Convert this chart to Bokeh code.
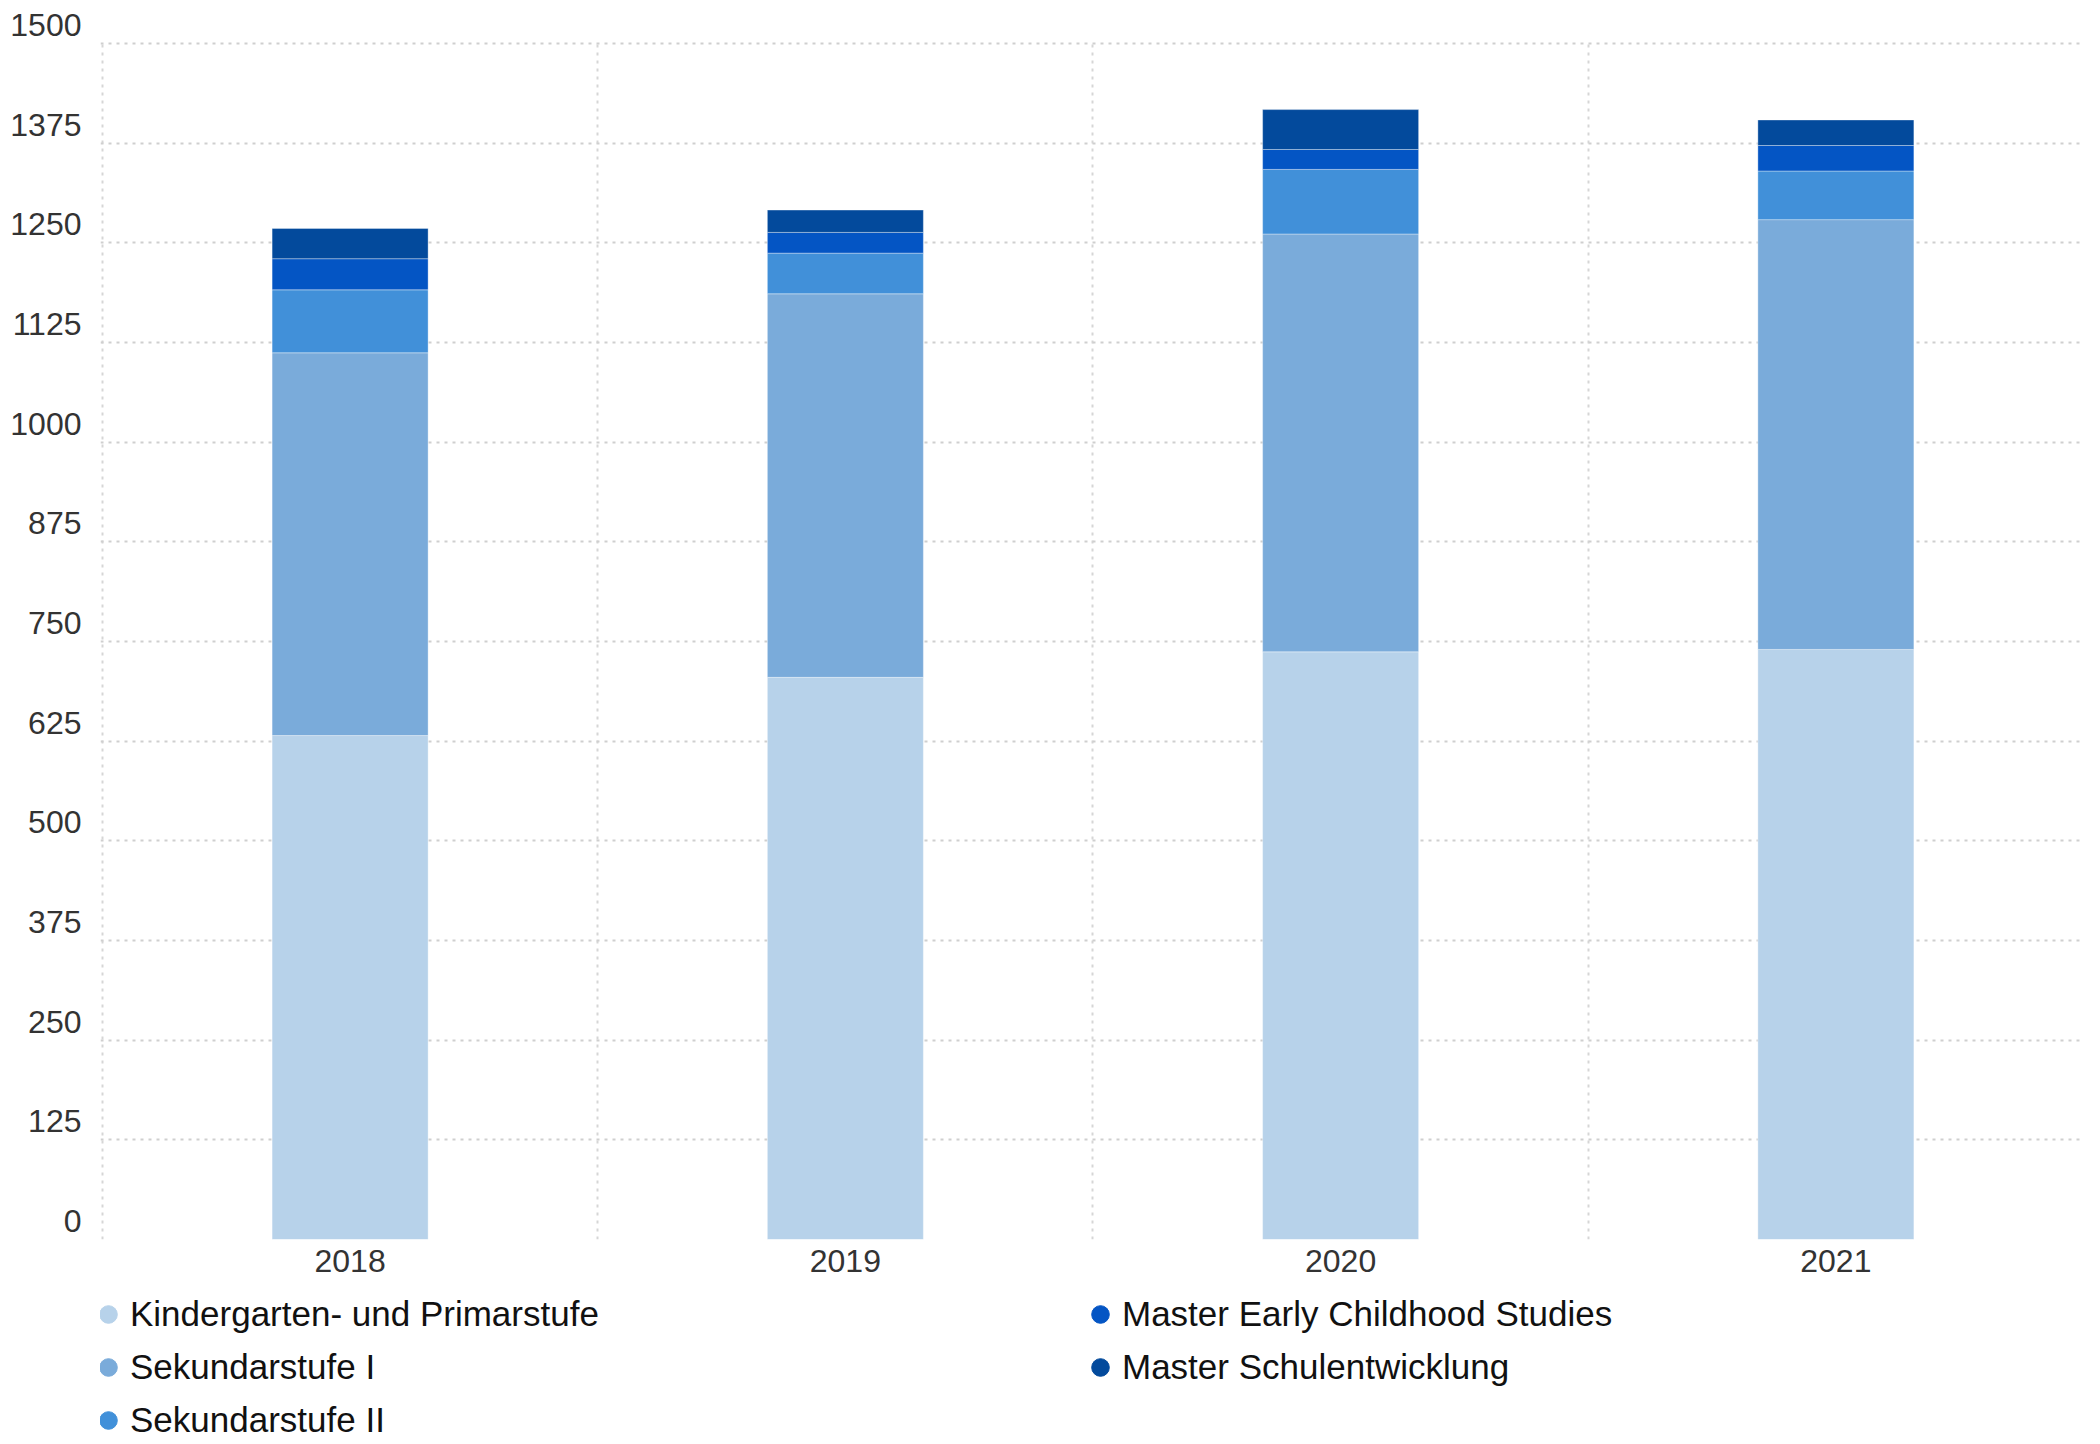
from bokeh.plotting import figure
from bokeh.layouts import column
from bokeh.models import Range1d, FixedTicker, Legend, LegendItem, ColumnDataSource
from bokeh.embed import file_html
from bokeh.resources import INLINE

# ---- data ----
years = ["2018", "2019", "2020", "2021"]
series_names = [
    "Kindergarten- und Primarstufe",
    "Sekundarstufe I",
    "Sekundarstufe II",
    "Master Early Childhood Studies",
    "Master Schulentwicklung",
]
kindergarten_primar = [632, 705, 737, 740]
sekundar_1 = [480, 481, 524, 539]
sekundar_2 = [79, 51, 81, 61]
master_early_childhood = [39, 26, 25, 32]
master_schulentwicklung = [38, 28, 50, 32]
colors = ["#b7d2ea", "#7aabda", "#4190d9", "#0455c4", "#034a9c"]
y_ticks = [0, 125, 250, 375, 500, 625, 750, 875, 1000, 1125, 1250, 1375, 1500]

keys = ["kg", "s1", "s2", "mec", "ms"]
xpos = [i + 0.5 for i in range(len(years))]
source = ColumnDataSource(dict(
    x=xpos,
    kg=kindergarten_primar,
    s1=sekundar_1,
    s2=sekundar_2,
    mec=master_early_childhood,
    ms=master_schulentwicklung,
))

LABEL_LIFT = 23  # tick labels sit just above their grid line
W = 2100
H_CHART = 1290
H_LEG = 154

p = figure(
    width=W, height=H_CHART,
    x_range=Range1d(-0.004, len(years)), y_range=Range1d(0, 1530),
    output_backend="svg", toolbar_location=None,
    min_border_left=100, min_border_right=17, min_border_top=19, min_border_bottom=51,
)
p.outline_line_color = None
p.background_fill_color = "white"
p.border_fill_color = "white"

p.vbar_stack(keys, x="x", width=0.315, color=colors, source=source,
             line_color="white", line_alpha=0.35, line_width=1)

# axes
for ax in (p.xaxis, p.yaxis):
    ax.axis_line_color = None
    ax.major_tick_line_color = None
    ax.minor_tick_line_color = None
    ax.major_tick_out = 0
    ax.major_tick_in = 0
    ax.major_label_text_font = "Liberation Sans"
    ax.major_label_text_font_size = "32px"
    ax.major_label_text_color = "#333333"

p.xaxis.ticker = FixedTicker(ticks=xpos)
p.xaxis.major_label_overrides = {xv: y for xv, y in zip(xpos, years)}
p.xaxis.major_label_standoff = 10

lifted = [t + LABEL_LIFT for t in y_ticks]
p.yaxis.ticker = FixedTicker(ticks=lifted)
p.yaxis.major_label_overrides = {lv: str(t) for lv, t in zip(lifted, y_ticks)}
p.yaxis.major_label_standoff = 19

p.ygrid.ticker = FixedTicker(ticks=y_ticks)
p.ygrid.grid_line_color = "#cfcfcf"
p.ygrid.grid_line_width = 2
p.ygrid.grid_line_dash = "3 5"
p.xgrid.ticker = FixedTicker(ticks=list(range(len(years) + 1)))
p.xgrid.grid_line_color = "#d6d6d6"
p.xgrid.grid_line_width = 2
p.xgrid.grid_line_dash = "3 5"
xg = p.xgrid[0]
if "cross_bounds" in xg.properties():
    xg.cross_bounds = (0, y_ticks[-1])

# ---- legend strip below the chart ----
q = figure(
    width=W, height=H_LEG,
    x_range=Range1d(0, W), y_range=Range1d(0, H_LEG),
    output_backend="svg", toolbar_location=None,
    x_axis_location=None, y_axis_location=None,
    min_border=0,
)
q.outline_line_color = None
q.grid.visible = False
q.background_fill_color = "white"
q.border_fill_color = "white"

dots = []
for c in colors:
    r = q.scatter(x=[-100], y=[-100], marker="circle", size=14, fill_color=c, line_color=c)
    dots.append(r)

def make_legend(idx, loc):
    return Legend(
        items=[LegendItem(label=series_names[i], renderers=[dots[i]]) for i in idx],
        location=loc, orientation="vertical",
        glyph_width=44, glyph_height=44, label_height=44,
        label_standoff=-1, spacing=9, padding=0, margin=0,
        border_line_color=None, background_fill_alpha=0,
        label_text_font="Liberation Sans", label_text_font_size="35px",
        label_text_color="#111111",
    )

q.add_layout(make_legend([0, 1, 2], (-14, 2)))
q.add_layout(make_legend([3, 4], (978, 55)))

layout = column(p, q, spacing=0)
open("out.html", "w").write(file_html(layout, INLINE))
